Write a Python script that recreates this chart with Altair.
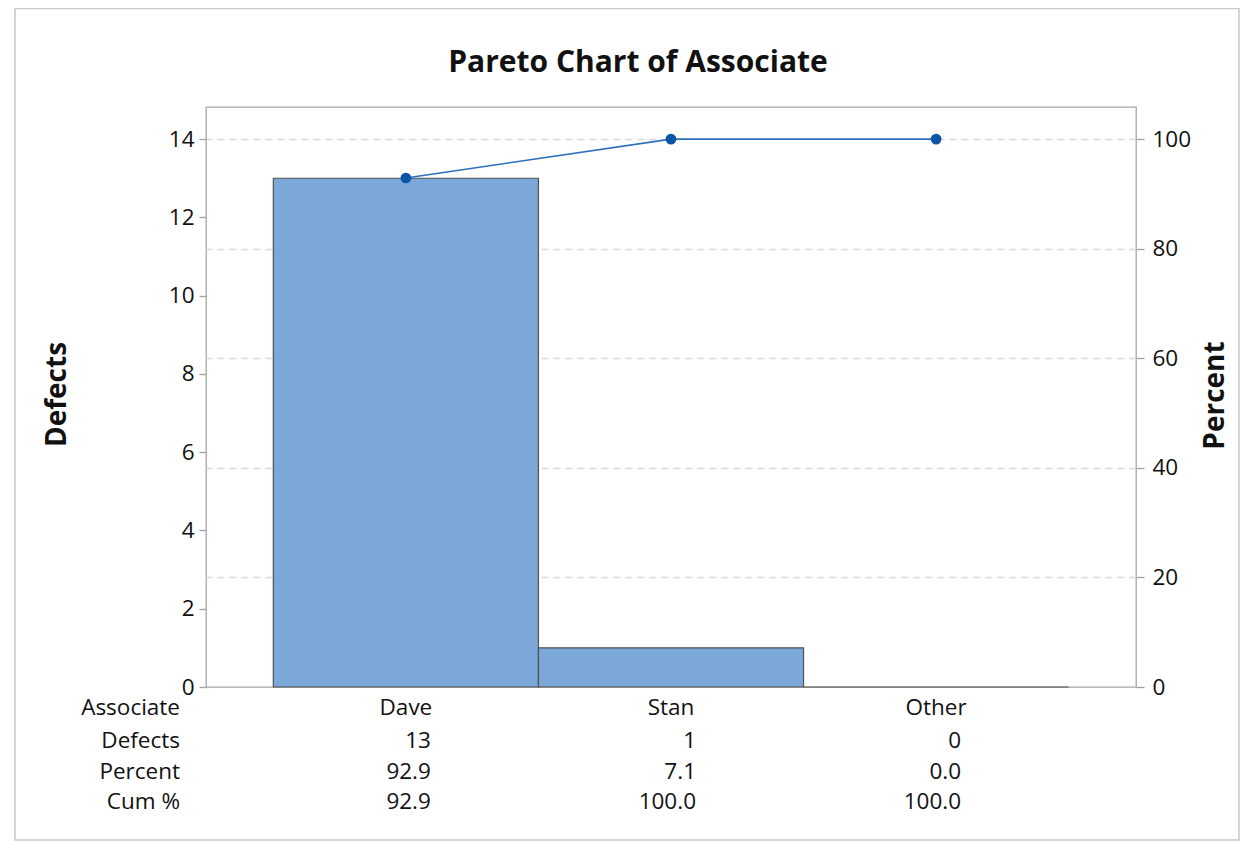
import altair as alt
import pandas as pd

# ---- data ----
associates = ["Dave", "Stan", "Other"]
defects = [13, 1, 0]
percent = [92.9, 7.1, 0.0]
cum_pct = [92.9, 100.0, 100.0]
row_labels = ["Associate", "Defects", "Percent", "Cum %"]
title_text = "Pareto Chart of Associate"

df = pd.DataFrame({
    "Associate": associates,
    "Defects": defects,
    "Percent": percent,
    "CumPct": cum_pct,
})
df["DefectsTxt"] = [str(v) for v in defects]
df["PercentTxt"] = [f"{v:.1f}" for v in percent]
df["CumTxt"] = [f"{v:.1f}" for v in cum_pct]

FONT = "Open Sans"
TXT = "#111111"
GRAY = "#a0a0a0"
W, H = 930, 580
Y_MAX = 14.82
P_MAX = Y_MAX / 14 * 100

x_scale = alt.Scale(domain=associates, paddingInner=0, paddingOuter=0.254)

def xenc(axis=None):
    return alt.X("Associate:N", scale=x_scale, sort=associates, axis=axis)

x_axis = alt.Axis(labels=False, title=None, ticks=True, tickSize=8, tickColor=GRAY,
                  tickWidth=1.3, domain=False, grid=False)

base = alt.Chart(df)

bars = base.mark_bar(color="#7ba7d9", stroke="#505050", strokeWidth=1.2).encode(
    x=xenc(x_axis),
    y=alt.Y("Defects:Q",
            scale=alt.Scale(domain=[0, Y_MAX], nice=False, zero=True),
            axis=alt.Axis(orient="left", values=list(range(0, 15, 2)), title="Defects",
                          titleFont=FONT, titleFontSize=28, titleFontWeight="bold",
                          titleColor=TXT, titleAngle=270, titleX=-141, titleY=287,
                          titleAlign="center", titleBaseline="alphabetic",
                          labelFont=FONT, labelFontSize=22.5, labelColor=TXT,
                          labelPadding=5, tickSize=7, tickColor=GRAY, tickWidth=1.3,
                          domain=False, grid=False)),
)

pct_scale = alt.Scale(domain=[0, P_MAX], nice=False, zero=True)
line = base.mark_line(
    color="#2c6fbd", strokeWidth=1.6,
    point=alt.OverlayMarkDef(filled=True, size=115, color="#0b54a6", opacity=1),
).encode(
    x=xenc(),
    y=alt.Y("CumPct:Q", scale=pct_scale,
            axis=alt.Axis(orient="right", values=list(range(0, 101, 20)), title="Percent",
                          titleFont=FONT, titleFontSize=28, titleFontWeight="bold",
                          titleColor=TXT, titleAngle=270, titleX=87, titleY=288,
                          titleAlign="center", titleBaseline="alphabetic",
                          labelFont=FONT, labelFontSize=22.5, labelColor=TXT,
                          labelPadding=8, tickSize=8, tickColor=GRAY, tickWidth=1.3,
                          domain=False, grid=True, gridColor="#d9d9d9",
                          gridOpacity=alt.condition("datum.value == 0",
                                                    alt.value(0), alt.value(1)),
                          gridDash=[7, 5], gridWidth=1.3)),
)

# table under the chart
row_y = [601, 634, 665, 695]
value_fields = [None, "DefectsTxt", "PercentTxt", "CumTxt"]
table_layers = []
for i, lab in enumerate(row_labels):
    table_layers.append(
        alt.Chart(alt.Data(values=[{"t": lab}])).mark_text(
            font=FONT, fontSize=22.5, color=TXT, align="right", baseline="middle"
        ).encode(x=alt.value(-26), y=alt.value(row_y[i]), text="t:N")
    )
table_layers.append(
    base.mark_text(font=FONT, fontSize=22.5, color=TXT, align="center", baseline="middle")
    .encode(x=xenc(), y=alt.value(row_y[0]), text="Associate:N")
)
for i in range(1, 4):
    table_layers.append(
        base.mark_text(font=FONT, fontSize=22.5, color=TXT, align="right",
                       baseline="middle", dx=25)
        .encode(x=xenc(), y=alt.value(row_y[i]), text=f"{value_fields[i]}:N")
    )

title = alt.Chart(alt.Data(values=[{"t": title_text}])).mark_text(
    font=FONT, fontSize=30, fontWeight="bold", color=TXT, align="center", baseline="middle"
).encode(x=alt.value(432), y=alt.value(-44), text="t:N")

border = alt.Chart(alt.Data(values=[{"a": 1}])).mark_rect(
    fillOpacity=0, stroke="#c8c8c8", strokeWidth=1.5
).encode(x=alt.value(-191), x2=alt.value(1033), y=alt.value(-98.5), y2=alt.value(733))

chart = alt.layer(border, bars, line, *table_layers, title).resolve_scale(
    y="independent"
).properties(
    width=W, height=H,
    autosize=alt.AutoSizeParams(type="none"),
    padding={"left": 198, "top": 99, "right": 104, "bottom": 155},
).configure_view(stroke="#a6a6a6", strokeWidth=1.3)

chart.save("out.html", embed_options={"renderer": "svg", "actions": False})
